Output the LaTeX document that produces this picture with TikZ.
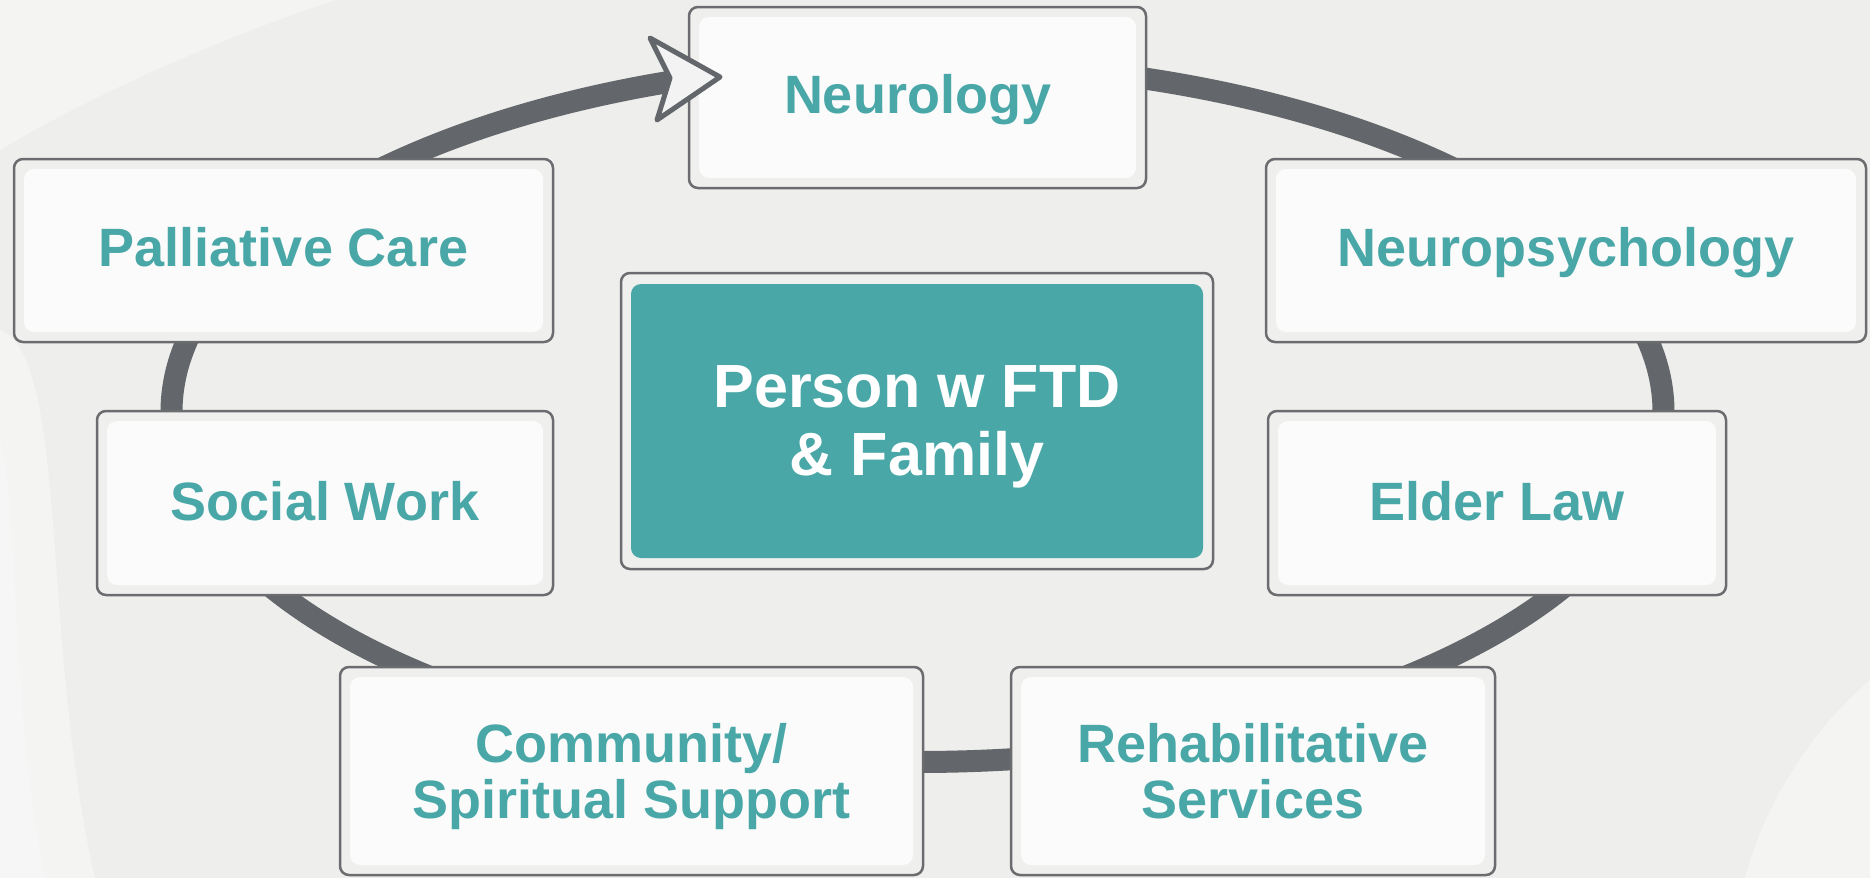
\documentclass[tikz,border=0pt]{standalone}
\usepackage{fontspec}
\setmainfont{Liberation Sans}
\usetikzlibrary{calc}

\definecolor{bgcol}{HTML}{EEEEEC}
\definecolor{ringgray}{HTML}{63666A}
\definecolor{edgegray}{HTML}{6B6C6F}
\definecolor{cardpad}{HTML}{EFEFEE}
\definecolor{cardface}{HTML}{FBFBFB}
\definecolor{teal}{HTML}{4AA7A7}
\definecolor{headfill}{HTML}{F3F3F3}

\tikzset{
  card/.style={draw=edgegray, line width=2.5pt, fill=cardpad,
    rounded corners=9pt, inner sep=0pt, outer sep=0pt},
  cardinner/.style={fill=cardface, rounded corners=10pt},
  hubinner/.style={fill=teal, rounded corners=10pt},
  lbl/.style={text=teal, font=\bfseries\fontsize{54}{56}\selectfont,
    align=center, text depth=0pt, inner sep=0pt},
  hublbl/.style={text=white, font=\bfseries\fontsize{61}{68}\selectfont,
    align=center, text depth=0pt, inner sep=0pt},
  ring/.style={draw=ringgray, line width=22pt},
  haze/.style={fill=white, opacity=0.4}
}

% box: name, centre x, centre y, width, height
\newcommand{\cardat}[5]{%
  \node[card, minimum width=#4pt, minimum height=#5pt] (#1) at (#2,#3) {};
  \fill[cardinner] ($(#1.north west)+(10,10)$) rectangle ($(#1.south east)+(-10,-10)$);
}

\begin{document}
\begin{tikzpicture}[x=1pt, y=-1pt]
  \useasboundingbox (0,0) rectangle (1870,878);
  \fill[bgcol] (0,0) rectangle (1870,878);

  % soft light swirls in the background
  \fill[haze] (0,0) -- (335,0) .. controls (230,35) and (100,90) .. (0,150) -- cycle;
  \fill[haze] (0,330) .. controls (70,360) and (40,640) .. (95,878) -- (0,878) -- cycle;
  \fill[white, opacity=0.25] (0,440) .. controls (20,520) and (10,700) .. (45,878) -- (0,878) -- cycle;
  \fill[haze] (1870,680) .. controls (1800,740) and (1760,820) .. (1745,878) -- (1870,878) -- cycle;

  % the cycle ring behind the boxes
  \draw[ring] (917.5,412) ellipse [x radius=746, y radius=350];

  % outer boxes
  \cardat{neuro}{917.5}{97.5}{457}{181}
  \cardat{pall}{283.5}{250.5}{539}{183}
  \cardat{npsy}{1566}{250.5}{600}{183}
  \cardat{social}{325}{503}{456}{184}
  \cardat{elder}{1497}{503}{458}{184}
  \cardat{comm}{631.5}{771}{583}{208}
  \cardat{rehab}{1253}{771}{484}{208}

  % central box
  \node[card, minimum width=592pt, minimum height=296pt] (hub) at (917,421) {};
  \fill[hubinner] ($(hub.north west)+(10,11)$) rectangle ($(hub.south east)+(-10,-11)$);

  % arrow head of the cycle, pointing into Neurology
  \coordinate (tip) at (720,77);
  \filldraw[fill=headfill, draw=ringgray, line width=5pt, line join=round]
    (tip) -- (650,38) -- (670,78) -- (657,120) -- cycle;

  % labels
  \node[lbl, yshift=4pt] (neuro-t) at (neuro) {Neurology};
  \node[lbl, yshift=4pt] (pall-t) at (pall) {Palliative Care};
  \node[lbl, yshift=4pt] (npsy-t) at (npsy) {Neuropsychology};
  \node[lbl, yshift=2pt] (social-t) at (social) {Social Work};
  \node[lbl, yshift=2pt] (elder-t) at (elder) {Elder Law};
  \node[lbl] (comm-t) at (comm) {Community/\\Spiritual Support};
  \node[lbl] (rehab-t) at (rehab) {Rehabilitative\\Services};
  \node[hublbl] (hub-t) at (hub) {Person w FTD\\\& Family};
\end{tikzpicture}
\end{document}
